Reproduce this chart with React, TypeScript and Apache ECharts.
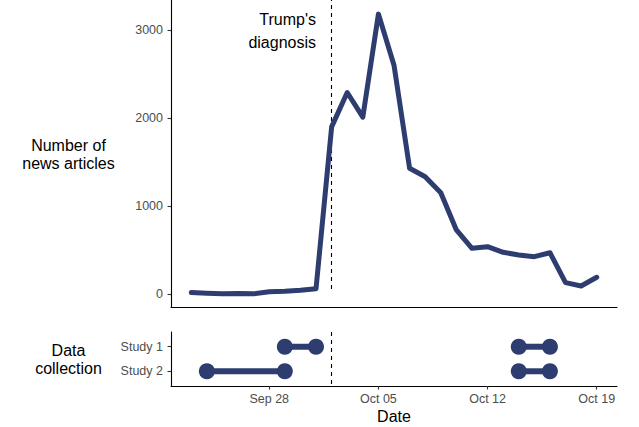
import React, { useEffect, useRef } from "react";
import * as echarts from "echarts";

const dates = [
  "2020-09-23", "2020-09-24", "2020-09-25", "2020-09-26", "2020-09-27", "2020-09-28",
  "2020-09-29", "2020-09-30", "2020-10-01", "2020-10-02", "2020-10-03", "2020-10-04",
  "2020-10-05", "2020-10-06", "2020-10-07", "2020-10-08", "2020-10-09", "2020-10-10",
  "2020-10-11", "2020-10-12", "2020-10-13", "2020-10-14", "2020-10-15", "2020-10-16",
  "2020-10-17", "2020-10-18", "2020-10-19",
];
const articleCounts = [
  20, 12, 5, 10, 5, 30, 35, 45, 64, 1900, 2290, 2010, 3180, 2600, 1430, 1335, 1153, 730,
  522, 540, 477, 446, 427, 472, 132, 94, 193,
];
const studies = ["Study 1", "Study 2"];
const collectionStudy = ["Study 1", "Study 1", "Study 2", "Study 2"];
const collectionStart = ["2020-09-29", "2020-10-14", "2020-09-24", "2020-10-14"];
const collectionEnd = ["2020-10-01", "2020-10-16", "2020-09-29", "2020-10-16"];
const diagnosisDate = "2020-10-02";
const xTickDates = ["2020-09-28", "2020-10-05", "2020-10-12", "2020-10-19"];
const yTicks = [0, 1000, 2000, 3000];

const MONTHS = ["Jan", "Feb", "Mar", "Apr", "May", "Jun", "Jul", "Aug", "Sep", "Oct", "Nov", "Dec"];
const dayOf = (s: string) => {
  const [y, m, d] = s.split("-").map(Number);
  return Date.UTC(y, m - 1, d) / 86400000;
};
const fmtDay = (v: number) => {
  const dt = new Date(Math.round(v) * 86400000);
  const dd = String(dt.getUTCDate()).padStart(2, "0");
  return `${MONTHS[dt.getUTCMonth()]} ${dd}`;
};

const FONT = "'Liberation Sans', Arial, Helvetica, sans-serif";
const NAVY = "#2e3d70";
const GREY = "#4d4d4d";

export default function App() {
  const ref = useRef<HTMLDivElement>(null);
  useEffect(() => {
    if (!ref.current) return;
    const chart = echarts.init(ref.current, undefined, { renderer: "svg" });
    const xs = dates.map(dayOf);
    const span = xs[xs.length - 1] - xs[0];
    const xMin = xs[0] - span * 0.05;
    const xMax = xs[xs.length - 1] + span * 0.05;
    const dx = dayOf(diagnosisDate);

    const axisLine = { show: true, onZero: false, lineStyle: { color: "#000", width: 1.1 } };
    const axisTick = { show: true, length: 3.5, lineStyle: { color: "#333", width: 1.1 } };

    const segSeries = collectionStudy.map((st, i) => ({
      type: "line",
      xAxisIndex: 1,
      yAxisIndex: 1,
      data: [
        [dayOf(collectionStart[i]), studies.indexOf(st)],
        [dayOf(collectionEnd[i]), studies.indexOf(st)],
      ],
      symbol: "circle",
      symbolSize: 16,
      showSymbol: true,
      lineStyle: { color: NAVY, width: 6 },
      itemStyle: { color: NAVY },
      silent: true,
      z: 3,
    }));

    const option: any = {
      animation: false,
      textStyle: { fontFamily: FONT },
      grid: [
        { left: 171, right: 22, top: 0, height: 307 },
        { left: 171, right: 22, top: 332, height: 54 },
      ],
      xAxis: [
        {
          type: "value",
          gridIndex: 0,
          min: xMin,
          max: xMax,
          axisLine,
          axisTick: { show: false },
          axisLabel: { show: false },
          splitLine: { show: false },
        },
        {
          type: "value",
          gridIndex: 1,
          min: xMin,
          max: xMax,
          axisLine,
          axisTick: { ...axisTick, customValues: xTickDates.map(dayOf) },
          axisLabel: {
            customValues: xTickDates.map(dayOf),
            formatter: (v: number) => fmtDay(v),
            color: GREY,
            fontSize: 12.5,
            fontFamily: FONT,
            margin: 6,
          },
          splitLine: { show: false },
          name: "Date",
          nameLocation: "middle",
          nameGap: 22,
          nameTextStyle: { color: "#000", fontSize: 16, fontFamily: FONT },
        },
      ],
      yAxis: [
        {
          type: "value",
          gridIndex: 0,
          min: -144,
          max: 3340,
          axisLine,
          axisTick: { ...axisTick, customValues: yTicks },
          axisLabel: {
            customValues: yTicks,
            formatter: (v: number) => String(v),
            color: GREY,
            fontSize: 12.5,
            fontFamily: FONT,
            margin: 8,
          },
          splitLine: { show: false },
        },
        {
          type: "value",
          gridIndex: 1,
          min: -0.6,
          max: 1.6,
          inverse: true,
          axisLine,
          axisTick: { ...axisTick, customValues: [0, 1] },
          axisLabel: {
            customValues: [0, 1],
            formatter: (v: number) => studies[Math.round(v)] ?? "",
            color: GREY,
            fontSize: 12.5,
            fontFamily: FONT,
            margin: 8,
          },
          splitLine: { show: false },
        },
      ],
      series: [
        {
          type: "line",
          xAxisIndex: 0,
          yAxisIndex: 0,
          data: xs.map((x, i) => [x, articleCounts[i]]),
          showSymbol: false,
          symbol: "none",
          lineStyle: { color: NAVY, width: 5, join: "round", cap: "round" },
          silent: true,
          z: 3,
          markLine: {
            silent: true,
            symbol: ["none", "none"],
            label: { show: false },
            lineStyle: { color: "#000", type: [4, 4], width: 1.1 },
            data: [[{ coord: [dx, 60] }, { coord: [dx, 3340] }]],
            z: 2,
          },
        },
        {
          type: "line",
          xAxisIndex: 1,
          yAxisIndex: 1,
          data: [],
          markLine: {
            silent: true,
            symbol: ["none", "none"],
            label: { show: false },
            lineStyle: { color: "#000", type: [4, 4], width: 1.1 },
            data: [[{ coord: [dx, -0.6] }, { coord: [dx, 1.6] }]],
          },
        },
        ...segSeries,
      ],
      graphic: [
        {
          type: "text",
          x: 316,
          y: 31,
          style: {
            text: "Trump's\ndiagnosis",
            align: "right",
            verticalAlign: "middle",
            fontSize: 16,
            lineHeight: 23.5,
            fontFamily: FONT,
            fill: "#000",
          },
        },
        {
          type: "text",
          x: 68.5,
          y: 154.5,
          style: {
            text: "Number of\nnews articles",
            align: "center",
            verticalAlign: "middle",
            fontSize: 16,
            lineHeight: 17.5,
            fontFamily: FONT,
            fill: "#000",
          },
        },
        {
          type: "text",
          x: 68.5,
          y: 359.5,
          style: {
            text: "Data\ncollection",
            align: "center",
            verticalAlign: "middle",
            fontSize: 16,
            lineHeight: 17.5,
            fontFamily: FONT,
            fill: "#000",
          },
        },
      ],
    };
    chart.setOption(option);
    return () => chart.dispose();
  }, []);
  return (
    <div
      ref={ref}
      style={{ position: "absolute", left: 0, top: 0, width: 639, height: 427, background: "#fff" }}
    />
  );
}
